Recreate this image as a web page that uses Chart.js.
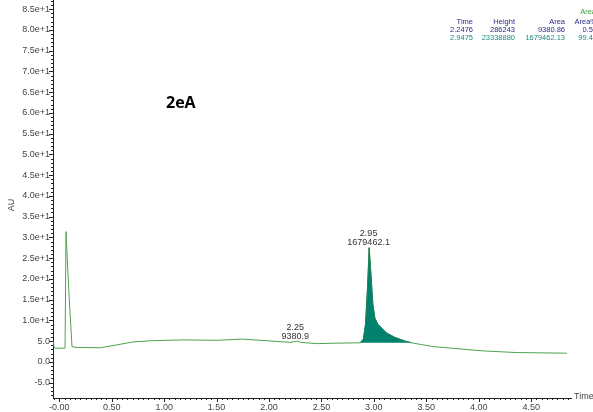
<!DOCTYPE html>
<html>
<head>
<meta charset="utf-8">
<script src="https://cdn.jsdelivr.net/npm/chart.js@4.4.0/dist/chart.umd.min.js"></script>
<style>
  html, body { margin: 0; padding: 0; background: #fff; }
  #chart { display: block; }
</style>
</head>
<body>
<canvas id="chart" width="593" height="412"></canvas>
<script>
// retention time (min) and detector response (AU)
var times = [-0.057, -0.05, -0.04, 0.055, 0.064, 0.089, 0.121, 0.15, 0.39, 0.55, 0.70, 0.87, 1.18, 1.50, 1.74, 1.98, 2.20, 2.25, 2.27, 2.30, 2.46, 2.61,
             2.87, 2.90, 2.92, 2.94, 2.955, 2.975, 2.99, 3.01, 3.04, 3.08, 3.12, 3.20, 3.30, 3.36, 3.56, 4.04, 4.36, 4.84];
var absorbance = [4.9, 3.6, 3.3, 3.3, 31.4, 18.0, 3.7, 3.5, 3.4, 4.1, 4.8, 5.1, 5.3, 5.2, 5.5, 5.1, 4.7, 4.9, 5.0, 4.7, 4.4, 4.5,
                  4.6, 5.5, 9.0, 18.0, 27.5, 20.0, 14.0, 10.5, 9.0, 8.0, 7.0, 5.9, 5.0, 4.6, 3.7, 2.65, 2.25, 2.1];

// integrated peak window
var peakStart = 2.87;
var peakEnd = 3.36;

var xTickValues = [0, 0.5, 1.0, 1.5, 2.0, 2.5, 3.0, 3.5, 4.0, 4.5];
var yTickValues = [-5, 0, 5, 10, 15, 20, 25, 30, 35, 40, 45, 50, 55, 60, 65, 70, 75, 80, 85];

// peak table
var peakTimes = ['2.2476', '2.9475'];
var peakHeights = ['286243', '23338880'];
var peakAreas = ['9380.86', '1679462.13'];
var peakAreaPct = ['0.56', '99.44'];
var peakLabelTimes = [2.25, 2.95];
var peakLabelAreas = ['9380.9', '1679462.1'];

var mainPts = times.map(function(t, i) { return { x: t, y: absorbance[i] }; });
var peakPts = mainPts.filter(function(p) { return p.x >= peakStart && p.x <= peakEnd; });
var basePts = [peakPts[0], peakPts[peakPts.length - 1]];

var font = 'Arial, "Liberation Sans", sans-serif';

function fmtY(v) {
    if (Math.abs(v) >= 10) return (v / 10).toFixed(1) + 'e+1';
    return v.toFixed(1);
}
function fmtX(v) {
    if (v === 0) return '-0.00';
    return v.toFixed(2);
}

var decor = {
    id: 'decor',
    afterDraw: function(chart) {
        var ctx = chart.ctx;
        var xs = chart.scales.x, ys = chart.scales.y;
        var area = chart.chartArea;
        ctx.save();
        // tick marks
        ctx.strokeStyle = '#222';
        ctx.lineWidth = 1;
        ctx.beginPath();
        for (var v = -8; v <= 87; v++) {
            var py = Math.round(ys.getPixelForValue(v)) + 0.5;
            var len = (v % 5 === 0) ? 4 : 2;
            ctx.moveTo(area.left - len, py);
            ctx.lineTo(area.left, py);
        }
        for (var k = -1; k <= 97; k++) {
            var xv = k * 0.05;
            if (xv < xs.min || xv > xs.max) continue;
            var px = Math.round(xs.getPixelForValue(xv)) + 0.5;
            var l2 = (k % 10 === 0) ? 4 : 2;
            ctx.moveTo(px, area.bottom);
            ctx.lineTo(px, area.bottom + l2);
        }
        ctx.stroke();

        // axis captions
        ctx.fillStyle = '#444';
        ctx.font = '9px ' + font;
        ctx.textBaseline = 'middle';
        ctx.textAlign = 'left';
        ctx.fillText('Time', 574, 397);
        ctx.save();
        ctx.translate(12, 205);
        ctx.rotate(-Math.PI / 2);
        ctx.textAlign = 'center';
        ctx.fillText('AU', 0, 0);
        ctx.restore();

        // sample name
        ctx.fillStyle = '#000';
        ctx.font = 'bold 16px "Open Sans", ' + font;
        ctx.textAlign = 'left';
        ctx.fillText('2eA', 166, 103);

        // peak labels
        ctx.fillStyle = '#333';
        ctx.font = '9px ' + font;
        ctx.textAlign = 'center';
        ctx.textBaseline = 'alphabetic';
        var labelY = [330, 236];
        for (var i = 0; i < peakLabelTimes.length; i++) {
            var lx = xs.getPixelForValue(peakLabelTimes[i]);
            ctx.fillText(peakLabelTimes[i].toFixed(2), lx, labelY[i]);
            ctx.fillText(peakLabelAreas[i], lx, labelY[i] + 9);
        }

        // peak table
        ctx.font = '7.5px ' + font;
        ctx.textAlign = 'right';
        ctx.fillStyle = '#3a9a3a';
        ctx.fillText('Area', 596, 14);
        var cols = [473, 515, 565, 597];
        var head = ['Time', 'Height', 'Area', 'Area%'];
        ctx.fillStyle = '#2a2a8a';
        for (var c = 0; c < 4; c++) ctx.fillText(head[c], cols[c], 24);
        var rowColors = ['#2a2a8a', '#1a8a7a'];
        for (var r = 0; r < peakTimes.length; r++) {
            ctx.fillStyle = rowColors[r];
            var row = [peakTimes[r], peakHeights[r], peakAreas[r], peakAreaPct[r]];
            for (var c2 = 0; c2 < 4; c2++) ctx.fillText(row[c2], cols[c2], 32 + r * 8);
        }
        ctx.restore();
    }
};

new Chart(document.getElementById('chart').getContext('2d'), {
    type: 'scatter',
    data: {
        datasets: [{
            data: mainPts,
            showLine: true,
            borderColor: '#4ea24e',
            borderWidth: 1,
            pointRadius: 0,
            fill: false,
            order: 2
        }, {
            data: peakPts,
            showLine: true,
            borderColor: '#1f7f5a',
            borderWidth: 1,
            backgroundColor: '#00826f',
            pointRadius: 0,
            fill: 2,
            order: 1
        }, {
            data: basePts,
            showLine: true,
            borderWidth: 0,
            borderColor: 'rgba(0,0,0,0)',
            pointRadius: 0,
            fill: false,
            order: 3
        }]
    },
    options: {
        responsive: false,
        animation: false,
        events: [],
        layout: { padding: { left: 0, top: 0, right: 22, bottom: 0 } },
        plugins: { legend: { display: false }, tooltip: { enabled: false } },
        scales: {
            x: {
                type: 'linear',
                min: -0.06,
                max: 4.88,
                grid: { display: false, drawTicks: false },
                border: { display: true, color: '#222', width: 1 },
                afterBuildTicks: function(scale) {
                    scale.ticks = xTickValues.map(function(v) { return { value: v }; });
                },
                afterFit: function(scale) {
                    scale.height = 14;
                    scale.paddingLeft = 0;
                    scale.paddingRight = 0;
                },
                ticks: {
                    autoSkip: false,
                    maxRotation: 0,
                    padding: 4,
                    color: '#444',
                    font: { family: font, size: 9 },
                    callback: function(v) { return fmtX(v); }
                }
            },
            y: {
                type: 'linear',
                min: -8.7,
                max: 87.2,
                grid: { display: false, drawTicks: false },
                border: { display: true, color: '#222', width: 1 },
                afterBuildTicks: function(scale) {
                    scale.ticks = yTickValues.map(function(v) { return { value: v }; });
                },
                afterFit: function(scale) {
                    scale.width = 53;
                    scale.paddingTop = 0;
                    scale.paddingBottom = 0;
                },
                ticks: {
                    autoSkip: false,
                    padding: 3,
                    color: '#444',
                    font: { family: font, size: 9 },
                    callback: function(v) { return fmtY(v); }
                }
            }
        }
    },
    plugins: [decor]
});
</script>
</body>
</html>
